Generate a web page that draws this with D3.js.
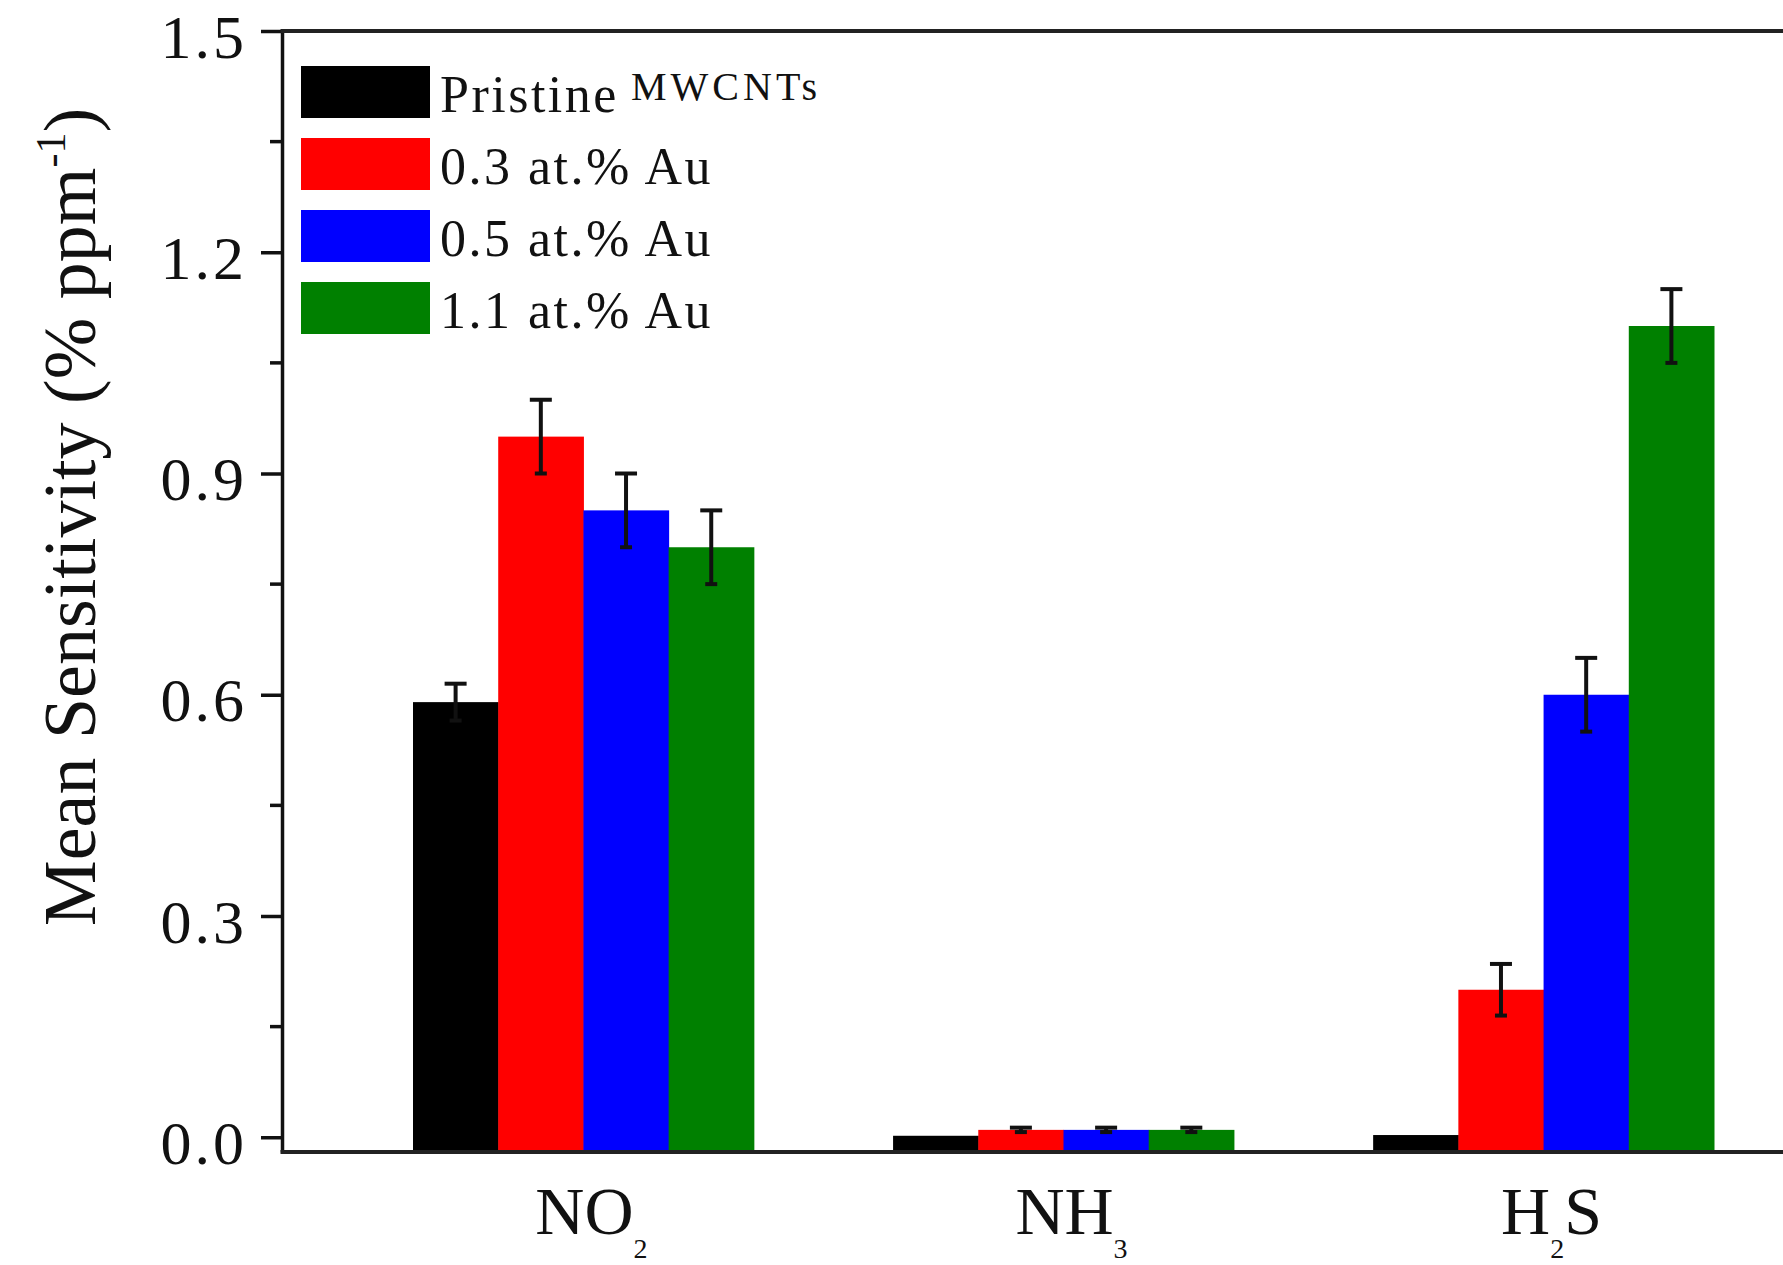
<!DOCTYPE html>
<html>
<head>
<meta charset="utf-8">
<script src="https://cdn.jsdelivr.net/npm/d3@7"></script>
<style>
  body { margin: 0; background: #fff; }
  svg { display: block; }
</style>
</head>
<body>
<svg id="chart"></svg>
<script>
// categories & series
const categories = ["NO2", "NH3", "H2S"];
const seriesNames = ["Pristine", "0.3 at.% Au", "0.5 at.% Au", "1.1 at.% Au"];
const seriesColors = ["#000000", "#ff0000", "#0000ff", "#008000"];

// mean sensitivity values (NO2, NH3, H2S)
const pristineVals = [0.59, 0.002, 0.003];
const au03Vals = [0.95, 0.010, 0.20];
const au05Vals = [0.85, 0.010, 0.60];
const au11Vals = [0.80, 0.010, 1.10];

// error bar half-widths
const pristineErr = [0.025, 0, 0];
const au03Err = [0.05, 0.003, 0.035];
const au05Err = [0.05, 0.003, 0.05];
const au11Err = [0.05, 0.003, 0.05];

const yTicks = [0, 0.3, 0.6, 0.9, 1.2, 1.5];
const yMinorTicks = [0.15, 0.45, 0.75, 1.05, 1.35];

const allVals = [pristineVals, au03Vals, au05Vals, au11Vals];
const allErr = [pristineErr, au03Err, au05Err, au11Err];

const width = 1783, height = 1265;
const font = "'Liberation Serif', 'DejaVu Serif', serif";

const svg = d3.select("#chart")
    .attr("width", width)
    .attr("height", height);

svg.append("rect").attr("width", width).attr("height", height).attr("fill", "#fff");

const plotLeft = 282, plotTop = 31, plotBottom = 1152;

const y = d3.scaleLinear()
    .domain([-0.02, 1.5])
    .range([plotBottom, plotTop]);

const x0 = d3.scaleBand()
    .domain(categories)
    .range([413, 1714])
    .paddingInner(0.29)
    .paddingOuter(0);

const x1 = d3.scaleBand()
    .domain(seriesNames)
    .range([0, x0.bandwidth()])
    .padding(0);

// bars
const groups = svg.selectAll("g.group")
    .data(categories)
    .enter()
    .append("g")
    .attr("class", "group")
    .attr("transform", d => `translate(${x0(d)},0)`);

groups.each(function(cat, ci) {
    const g = d3.select(this);
    const rows = seriesNames.map((s, si) => ({
        s, color: seriesColors[si], v: allVals[si][ci], e: allErr[si][ci]
    }));

    g.selectAll("rect")
        .data(rows)
        .enter()
        .append("rect")
        .attr("x", d => x1(d.s))
        .attr("y", d => y(d.v))
        .attr("width", x1.bandwidth() + 0.5)
        .attr("height", d => y(-0.02) - y(d.v))
        .attr("fill", d => d.color);

    // error bars
    const errs = g.selectAll("g.err")
        .data(rows.filter(d => d.e > 0))
        .enter()
        .append("g")
        .attr("class", "err")
        .attr("stroke", "#111")
        .attr("stroke-width", 4);

    const cx = d => x1(d.s) + x1.bandwidth() / 2;
    errs.append("line")
        .attr("x1", cx).attr("x2", cx)
        .attr("y1", d => y(d.v - d.e))
        .attr("y2", d => y(d.v + d.e));
    errs.append("line")
        .attr("x1", d => cx(d) - 11).attr("x2", d => cx(d) + 11)
        .attr("y1", d => y(d.v + d.e)).attr("y2", d => y(d.v + d.e));
    errs.append("line")
        .attr("x1", d => cx(d) - 6).attr("x2", d => cx(d) + 6)
        .attr("y1", d => y(d.v - d.e)).attr("y2", d => y(d.v - d.e));
});

// y axis
const yAxis = svg.append("g")
    .attr("transform", `translate(${plotLeft},0)`)
    .call(d3.axisLeft(y)
        .tickValues(yTicks)
        .tickFormat(d3.format(".1f"))
        .tickSize(21)
        .tickSizeOuter(0)
        .tickPadding(14));

yAxis.select(".domain").attr("stroke", "#111").attr("stroke-width", 3.5);
yAxis.selectAll(".tick line").attr("stroke", "#111").attr("stroke-width", 3.5);
yAxis.selectAll(".tick text")
    .attr("font-family", font)
    .attr("font-size", 62)
    .attr("letter-spacing", 3)
    .attr("fill", "#111")
    .attr("dy", "0.42em");

svg.append("g")
    .selectAll("line")
    .data(yMinorTicks)
    .enter()
    .append("line")
    .attr("x1", plotLeft - 12).attr("x2", plotLeft)
    .attr("y1", d => y(d)).attr("y2", d => y(d))
    .attr("stroke", "#111")
    .attr("stroke-width", 3.5);

// frame: bottom & top lines
svg.append("line")
    .attr("x1", plotLeft - 1.5).attr("x2", width)
    .attr("y1", plotBottom).attr("y2", plotBottom)
    .attr("stroke", "#222").attr("stroke-width", 4);
svg.append("line")
    .attr("x1", plotLeft - 1.5).attr("x2", width)
    .attr("y1", plotTop).attr("y2", plotTop)
    .attr("stroke", "#222").attr("stroke-width", 4);

// x category labels with subscripts
const xLabels = {
    NO2: [["NO", false], ["2", true]],
    NH3: [["NH", false], ["3", true]],
    H2S: [["H", false], ["2", true], ["S", false]]
};

categories.forEach(cat => {
    const t = svg.append("text")
        .attr("x", x0(cat) + x0.bandwidth() / 2 + 8)
        .attr("y", 1234)
        .attr("text-anchor", "middle")
        .attr("font-family", font)
        .attr("font-size", 68)
        .attr("fill", "#111");
    let down = false;
    xLabels[cat].forEach(([str, sub]) => {
        const span = t.append("tspan").text(str);
        if (sub) {
            span.attr("font-size", 28).attr("dy", 24);
            down = true;
        } else if (down) {
            span.attr("dy", -24);
            down = false;
        }
    });
});

// y axis title
const yTitle = svg.append("text")
    .attr("transform", "translate(95,517) rotate(-90)")
    .attr("text-anchor", "middle")
    .attr("font-family", font)
    .attr("font-size", 74)
    .attr("fill", "#111");
yTitle.append("tspan").text("Mean Sensitivity (% ppm");
yTitle.append("tspan").text("-1").attr("font-size", 42).attr("dy", -30);
yTitle.append("tspan").text(")").attr("dy", 30);

// legend
const legend = svg.append("g").attr("transform", "translate(301,66)");
const legendRows = legend.selectAll("g")
    .data(seriesNames)
    .enter()
    .append("g")
    .attr("transform", (d, i) => `translate(0,${i * 72})`);

legendRows.append("rect")
    .attr("width", 129)
    .attr("height", 52)
    .attr("fill", (d, i) => seriesColors[i]);

legendRows.append("text")
    .attr("x", 139)
    .attr("y", 46)
    .attr("font-family", font)
    .attr("font-size", 52)
    .attr("letter-spacing", 2.5)
    .attr("fill", "#111")
    .text(d => d);

legend.append("text")
    .attr("x", 330)
    .attr("y", 34)
    .attr("font-family", font)
    .attr("font-size", 40)
    .attr("letter-spacing", 4)
    .attr("fill", "#111")
    .text("MWCNTs");
</script>
</body>
</html>
